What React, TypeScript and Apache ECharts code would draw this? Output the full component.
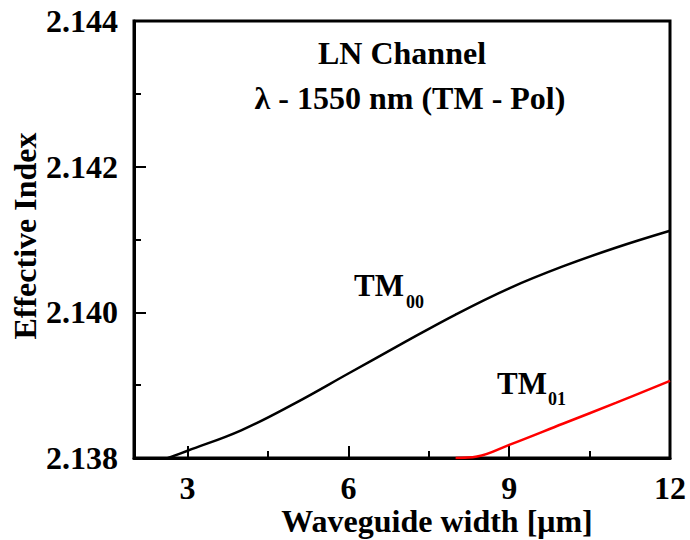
import React, { useEffect, useRef } from "react";
import * as echarts from "echarts";

const tm00X = [2.6, 3, 4, 5, 6, 7, 8, 9, 10, 11, 12];
const tm00Y = [2.13799, 2.1381, 2.13838, 2.13875, 2.13916, 2.13957, 2.13997, 2.14033, 2.14063, 2.14089, 2.14112];
const tm01X = [8.0, 8.4, 9.0, 10.0, 11.0, 12.0];
const tm01Y = [2.138, 2.13802, 2.13818, 2.13847, 2.13876, 2.13906];
const xMajor = [3, 6, 9, 12];
const xMinor = [4.5, 7.5, 10.5];
const titleLines = ["LN Channel", "λ - 1550 nm (TM - Pol)"];
const xName = "Waveguide width [μm]";
const yName = "Effective Index";

const FONT = "'Liberation Serif', 'Times New Roman', serif";

export default function App() {
  const ref = useRef<HTMLDivElement>(null);
  useEffect(() => {
    if (!ref.current) return;
    const chart = echarts.init(ref.current, null, { renderer: "svg" });
    const txt = (text: string, x: number, y: number, size: number, extra: any = {}) => ({
      type: "text",
      x,
      y,
      ...extra,
      style: {
        text,
        fontFamily: FONT,
        fontWeight: "bold",
        fontSize: size,
        fill: "#000",
        textAlign: "center",
        textVerticalAlign: "middle",
      },
    });
    chart.setOption({
      animation: false,
      backgroundColor: "#fff",
      grid: {
        left: 134,
        top: 21,
        right: 20,
        bottom: 82,
        show: true,
        borderColor: "#000",
        borderWidth: 3,
        backgroundColor: "transparent",
      },
      xAxis: [
        {
          type: "value",
          min: 2,
          max: 12,
          splitLine: { show: false },
          axisLine: { show: true, lineStyle: { color: "#000", width: 3 } },
          axisTick: { show: true, inside: true, length: 12, customValues: xMajor, lineStyle: { color: "#000", width: 2 } },
          axisLabel: {
            customValues: xMajor,
            margin: 14,
            color: "#000",
            fontFamily: FONT,
            fontWeight: "bold",
            fontSize: 32,
          },
        },
        {
          type: "value",
          position: "bottom",
          min: 2,
          max: 12,
          splitLine: { show: false },
          axisLine: { show: false },
          axisTick: { show: true, inside: true, length: 7, customValues: xMinor, lineStyle: { color: "#000", width: 2 } },
          axisLabel: { show: false },
        },
      ],
      yAxis: {
        type: "value",
        min: 2.138,
        max: 2.144,
        interval: 0.002,
        splitLine: { show: false },
        axisLine: { show: true, lineStyle: { color: "#000", width: 3 } },
        axisTick: { show: true, inside: true, length: 12, lineStyle: { color: "#000", width: 2 } },
        minorTick: { show: true, splitNumber: 2, length: 7, lineStyle: { color: "#000", width: 2 } },
        axisLabel: {
          margin: 16,
          color: "#000",
          fontFamily: FONT,
          fontWeight: "bold",
          fontSize: 32,
          formatter: (v: number) => v.toFixed(3),
        },
      },
      series: [
        {
          name: "TM00",
          type: "line",
          xAxisIndex: 0,
          data: tm00X.map((x, i) => [x, tm00Y[i]]),
          smooth: 0.4,
          showSymbol: false,
          clip: true,
          lineStyle: { color: "#000", width: 2.5 },
        },
        {
          name: "TM01",
          type: "line",
          xAxisIndex: 0,
          data: tm01X.map((x, i) => [x, tm01Y[i]]),
          smooth: 0.4,
          showSymbol: false,
          clip: true,
          lineStyle: { color: "#ff0000", width: 2.5 },
        },
      ],
      graphic: [
        txt(titleLines[0], 402, 53, 32),
        txt(titleLines[1], 410, 98, 32),
        txt(xName, 437, 521, 32),
        txt(yName, 25, 236, 32, { rotation: Math.PI / 2 }),
        txt("TM", 379, 285, 31),
        txt("00", 415, 302, 18),
        txt("TM", 522, 383, 31),
        txt("01", 557, 399, 18),
      ],
    });
    return () => chart.dispose();
  }, []);
  return (
    <div
      ref={ref}
      style={{ position: "fixed", left: 0, top: 0, width: 690, height: 540, background: "#fff" }}
    />
  );
}
